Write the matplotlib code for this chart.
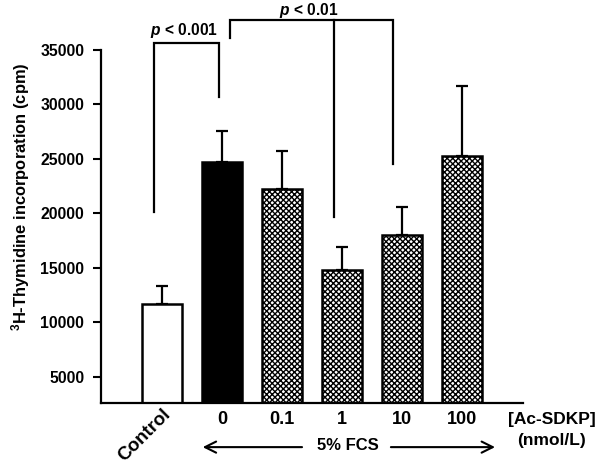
import matplotlib
matplotlib.use("Agg")
import matplotlib.pyplot as plt
import numpy as np

plt.rcParams['font.family'] = ['Liberation Sans', 'DejaVu Sans']
plt.rcParams['font.weight'] = 'bold'
plt.rcParams['mathtext.fontset'] = 'custom'
plt.rcParams['mathtext.it'] = 'Liberation Sans:italic:bold'
plt.rcParams['mathtext.bf'] = 'Liberation Sans:bold'
plt.rcParams['mathtext.rm'] = 'Liberation Sans:bold'
plt.rcParams['hatch.linewidth'] = 1.0

categories = ['Control', '0', '0.1', '1', '10', '100']
means = [11700, 24700, 22200, 14800, 18000, 25300]
sem_upper = [1600, 2900, 3550, 2100, 2600, 6400]
y_ticks = [5000, 10000, 15000, 20000, 25000, 30000, 35000]

# significance brackets: x positions (bar-index units) and line ends
br1_x = [-0.13, 0.95]
br1_top = 35600
br1_ends = [20100, 30700]
br1_label = r'$p$ < 0.001'
br2_x = [1.13, 2.87, 3.85]
br2_top = 37750
br2_ends = [36100, 19700, 24500]
br2_label = r'$p$ < 0.01'

fig = plt.figure(figsize=(6.0, 4.65), dpi=100)
ax = fig.add_axes([101/600, 1-403/465, 422/600, 353/465])

x = np.arange(len(categories))
faces = ['white', 'black', 'white', 'white', 'white', 'white']
hatches = [None, None] + ['xxxxxx'] * 4
for xi, m, e, fc, h in zip(x, means, sem_upper, faces, hatches):
    ax.bar(xi, m - 2600, bottom=2600, width=0.67, color=fc, hatch=h,
           edgecolor='black', linewidth=0, zorder=2)
    ax.bar(xi, m - 2600, bottom=2600, width=0.67, fill=False,
           edgecolor='black', linewidth=1.8, zorder=3)
    ax.errorbar(xi, m, yerr=[[0], [e]], fmt='none', ecolor='black',
                elinewidth=1.6, capsize=4.5, capthick=1.6, zorder=1)

ax.set_xlim(-1.02, 6.02)
ax.set_ylim(2600, 35000)
ax.set_yticks(y_ticks)
ax.set_yticklabels([str(v) for v in y_ticks], fontsize=11.3, fontweight='bold')
ax.tick_params(axis='y', length=6, width=1.5, pad=6, direction='out')
ax.set_xticks(x)
ax.set_xticklabels(['' for _ in categories])
ax.tick_params(axis='x', length=0)
for s in ['top', 'right']:
    ax.spines[s].set_visible(False)
for s in ['left', 'bottom']:
    ax.spines[s].set_linewidth(1.6)

fig.text(21/600, 1-197/465, r'$^{\mathbf{3}}$H-Thymidine incorporation (cpm)',
         rotation=90, ha='center', va='center', fontsize=11.9, fontweight='bold')

# category labels
trans = ax.get_xaxis_transform()
ax.text(0.1, -0.025, categories[0], transform=trans, rotation=45,
        ha='right', va='center', fontsize=13.5, fontweight='bold',
        rotation_mode='anchor')
for xi, c in zip(x[1:], categories[1:]):
    ax.text(xi, -0.048, c, transform=trans, ha='center', va='center',
            fontsize=13, fontweight='bold')
ax.text(6.5, -0.048, '[Ac-SDKP]', transform=trans, ha='center', va='center',
        fontsize=12.5, fontweight='bold', clip_on=False)
ax.text(6.5, -0.105, '(nmol/L)', transform=trans, ha='center', va='center',
        fontsize=12.5, fontweight='bold', clip_on=False)

# 5% FCS arrow
ax.text(3.1, -0.119, '5% FCS', transform=trans, ha='center', va='center',
        fontsize=12, fontweight='bold')
ax.annotate('', xy=(0.63, -0.125), xytext=(2.38, -0.125), xycoords=trans,
            textcoords=trans, arrowprops=dict(arrowstyle='->', lw=1.5,
            color='black', mutation_scale=20))
ax.annotate('', xy=(5.6, -0.125), xytext=(3.77, -0.125), xycoords=trans,
            textcoords=trans, arrowprops=dict(arrowstyle='->', lw=1.5,
            color='black', mutation_scale=20))

# brackets
lw = 1.6
ax.plot([br1_x[0], br1_x[0], br1_x[1], br1_x[1]],
        [br1_ends[0], br1_top, br1_top, br1_ends[1]], color='black', lw=lw,
        clip_on=False, solid_joinstyle='miter')
ax.text(np.mean(br1_x) - 0.05, 36400, br1_label, ha='center', va='baseline',
        fontsize=11.2, fontweight='bold')
ax.plot([br2_x[0], br2_x[0], br2_x[2], br2_x[2]],
        [br2_ends[0], br2_top, br2_top, br2_ends[2]], color='black', lw=lw,
        clip_on=False, solid_joinstyle='miter')
ax.plot([br2_x[1], br2_x[1]], [br2_top, br2_ends[1]], color='black', lw=lw,
        clip_on=False)
ax.text(2.45, 38200, br2_label, ha='center', va='baseline',
        fontsize=11.2, fontweight='bold')

fig.savefig('out.png', dpi=100)
